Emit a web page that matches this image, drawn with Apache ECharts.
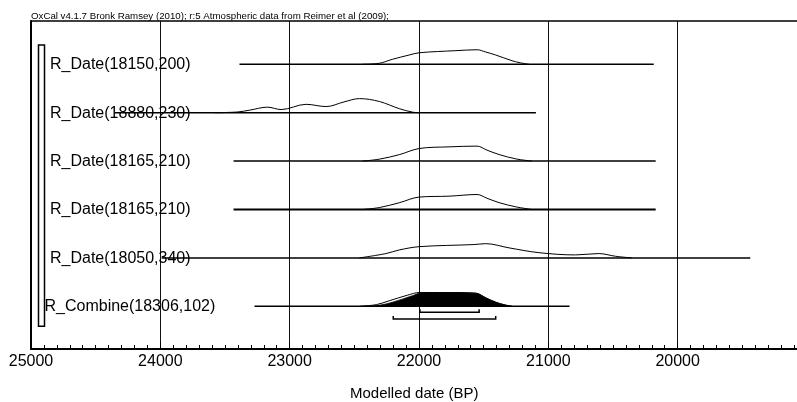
<!DOCTYPE html>
<html>
<head>
<meta charset="utf-8">
<script src="https://cdn.jsdelivr.net/npm/echarts@6/dist/echarts.min.js"></script>
<style>
  html, body { margin: 0; padding: 0; background: #fff; overflow: hidden; width: 797px; height: 402px; }
  #chart { width: 810px; height: 402px; }
</style>
</head>
<body>
<div id="chart"></div>
<script>
// ---------------- data ----------------
const categories = [
  'R_Date(18150,200)',
  'R_Date(18880,230)',
  'R_Date(18165,210)',
  'R_Date(18165,210)',
  'R_Date(18050,340)',
  'R_Combine(18306,102)'
];
// horizontal extent of each row's line (cal BP)
const rangeStart = [23388, 24352, 23434, 23434, 23990, 23272];
const rangeEnd   = [20185, 21096, 20170, 20170, 19439, 20836];

// probability distributions: [year BP, relative probability (0-100)]
const dist1 = [[22438,0],[22307,7],[22207,33],[22076,62],[21998,77],[21715,91],[21551,97],[21484,82],[21407,62],[21281,24],[21227,12],[21150,0]];
const dist2 = [[23580,0],[23400,5],[23310,17],[23171,37],[23066,21],[22873,56],[22718,41],[22580,72],[22460,94],[22307,75],[22153,27],[22050,4],[21998,0]];
const dist3 = [[22438,0],[22307,13],[22153,43],[21998,84],[21767,95],[21551,100],[21474,73],[21381,44],[21252,15],[21127,0]];
const dist4 = [[22438,0],[22307,13],[22153,45],[21998,83],[21767,89],[21551,100],[21474,75],[21381,46],[21252,18],[21127,0]];
const dist5 = [[22461,0],[22255,29],[22153,53],[21998,75],[21574,89],[21484,95],[21304,67],[21073,35],[20790,20],[20610,29],[20481,11],[20355,0]];
const distCombine = [[22438,0],[22307,7],[22205,27],[22050,71],[21985,89],[21793,91],[21561,87],[21484,56],[21407,27],[21343,10],[21279,0]];
const distCombinePrior = [[22460,0],[22330,11],[22230,37],[22090,74],[21995,92],[21793,92],[21561,88],[21484,57],[21407,28],[21343,11],[21279,0]];
// combine ranges (68.2% and 95.4%)
const combine68 = [21993, 21535];
const combine95 = [22199, 21407];

// axis
const xMin = 19000, xMax = 25000, xInterval = 1000;
const titleText = 'OxCal v4.1.7 Bronk Ramsey (2010); r:5 Atmospheric data from Reimer et al (2009);';
const axisTitle = 'Modelled date (BP)';

// ---------------- layout ----------------
const PEAK = 0.31;            // row units per 100 of relative probability
const FONT = '"Liberation Sans", Arial, sans-serif';
const nRows = categories.length;
const rowY = i => nRows - 1 - i;

const chart = echarts.init(document.getElementById('chart'), null, { renderer: 'canvas' });

function distSeries(d, rowIdx) {
  const base = rowY(rowIdx);
  return {
    type: 'line',
    data: d.map(([x, p]) => [x, base + p / 100 * PEAK]),
    smooth: 0.35,
    symbol: 'none',
    lineStyle: { color: '#000', width: 1 },
    z: 3,
    silent: true
  };
}

const rowData = categories.map((c, i) => [rangeStart[i], rangeEnd[i], rowY(i), i]);

const series = [
  {
    type: 'custom',
    data: rowData,
    encode: { x: [0, 1], y: 2 },
    z: 2,
    silent: true,
    renderItem: function (params, api) {
      const i = api.value(3);
      const p0 = api.coord([api.value(0), api.value(2)]);
      const p1 = api.coord([api.value(1), api.value(2)]);
      const name = categories[i];
      const labelX = params.coordSys.x + (name.indexOf('R_Combine') === 0 ? 13.5 : 19);
      return {
        type: 'group',
        children: [
          { type: 'line', shape: { x1: p0[0], y1: p0[1], x2: p1[0], y2: p1[1] },
            style: { stroke: '#000', lineWidth: i === 3 ? 2 : 1.5 } },
          { type: 'text', style: { text: name, x: labelX, y: p0[1] + 0.5, align: 'left', verticalAlign: 'middle',
            fontSize: 16, fontFamily: FONT, fill: '#000' } }
        ]
      };
    }
  },
  distSeries(dist1, 0),
  distSeries(dist2, 1),
  distSeries(dist3, 2),
  distSeries(dist4, 3),
  distSeries(dist5, 4),
  {
    type: 'line',
    data: distCombinePrior.map(([x, p]) => [x, rowY(5) + p / 100 * PEAK]),
    smooth: 0.35, symbol: 'none',
    lineStyle: { color: '#000', width: 1 }, z: 3, silent: true
  },
  {
    type: 'line',
    data: distCombine.map(([x, p]) => [x, rowY(5) + p / 100 * PEAK]),
    smooth: 0.35, symbol: 'none',
    lineStyle: { color: '#000', width: 0.8 },
    areaStyle: { color: '#000', opacity: 1 },
    z: 4, silent: true
  },
  {
    type: 'custom',
    data: [[combine68[0], combine68[1], rowY(5) - 0.124], [combine95[0], combine95[1], rowY(5) - 0.26]],
    encode: { x: [0, 1], y: 2 },
    z: 5, silent: true,
    renderItem: function (params, api) {
      const a = api.coord([api.value(0), api.value(2)]);
      const b = api.coord([api.value(1), api.value(2)]);
      return {
        type: 'polyline',
        shape: { points: [[a[0], a[1] - 3], [a[0], a[1]], [b[0], b[1]], [b[0], b[1] - 3]] },
        style: { stroke: '#000', lineWidth: 1.5, fill: null }
      };
    }
  },
  {
    type: 'custom',
    data: [[xMax, rowY(0) + 0.4, rowY(nRows - 1) - 0.41]],
    encode: { x: 0, y: [1, 2] },
    z: 5, silent: true,
    renderItem: function (params, api) {
      const t = api.coord([api.value(0), api.value(1)]);
      const b = api.coord([api.value(0), api.value(2)]);
      return {
        type: 'rect',
        shape: { x: params.coordSys.x + 7.5, y: t[1], width: 6, height: b[1] - t[1] },
        style: { stroke: '#000', lineWidth: 1.5, fill: null }
      };
    }
  }
];

const option = {
  animation: false,
  backgroundColor: '#fff',
  title: {
    text: titleText,
    left: 31, top: 11, padding: 0,
    textStyle: { fontSize: 9.7, fontWeight: 'normal', color: '#000', fontFamily: FONT }
  },
  graphic: [{
    type: 'text', left: 414 - 64, top: 386,
    style: { text: axisTitle, fontSize: 15, fontFamily: FONT, fill: '#000' }
  }],
  grid: { left: 31, top: 21, right: 0, height: 328, containLabel: false },
  xAxis: [{
    type: 'value', inverse: true, min: xMin, max: xMax, interval: xInterval,
    axisLine: { show: true, onZero: false, lineStyle: { color: '#000', width: 2 } },
    axisTick: { show: true, inside: true, length: 7, lineStyle: { color: '#000', width: 1 } },
    minorTick: { show: true, splitNumber: 10, length: 4, lineStyle: { color: '#000', width: 1 } },
    axisLabel: { show: true, margin: 5, fontSize: 16, color: '#000', fontFamily: FONT,
      formatter: v => (v === xMin ? '' : String(v)) },
    splitLine: { show: true, lineStyle: { color: '#111', width: 1 } }
  }, {
    type: 'value', inverse: true, min: xMin, max: xMax, interval: xInterval, position: 'top',
    axisLine: { show: true, onZero: false, lineStyle: { color: '#000', width: 1.5 } },
    axisTick: { show: false }, axisLabel: { show: false }, splitLine: { show: false }
  }],
  yAxis: {
    type: 'value', min: -0.882, max: 5.895,
    axisLine: { show: true, onZero: false, lineStyle: { color: '#000', width: 2 } },
    axisTick: { show: false }, axisLabel: { show: false }, splitLine: { show: false }
  },
  series: series
};

chart.setOption(option);
</script>
</body>
</html>
